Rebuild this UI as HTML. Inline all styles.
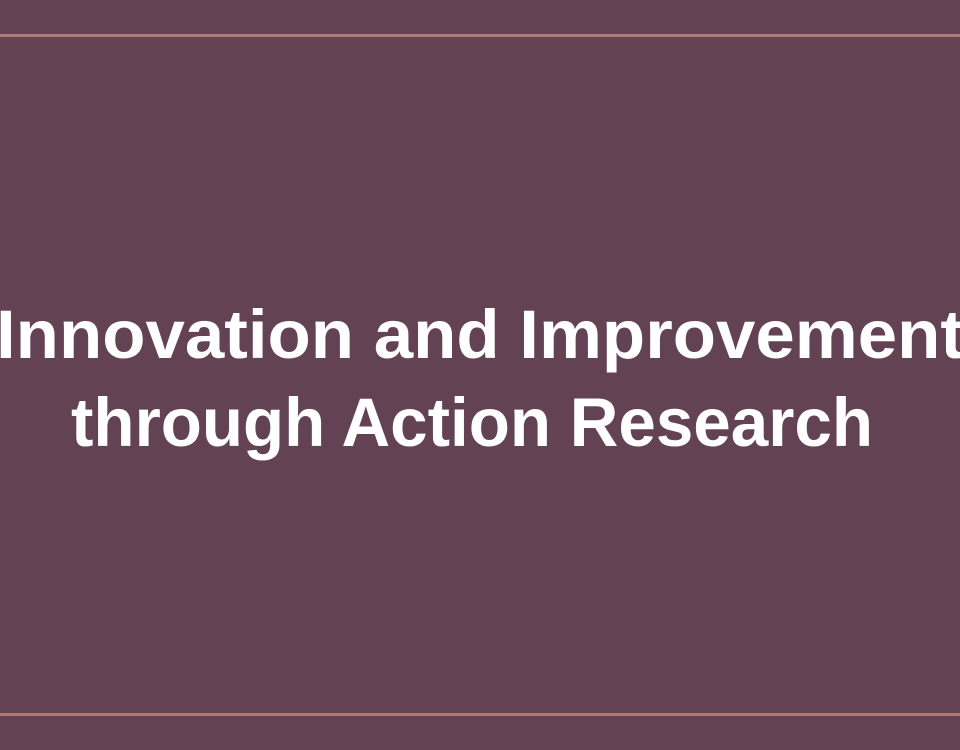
<!DOCTYPE html>
<html><head><meta charset="utf-8"><style>
html,body{margin:0;padding:0;background:#634254;}
svg{display:block}
</style></head><body>
<svg width="960" height="750" viewBox="0 0 960 750">
<rect x="0" y="0" width="960" height="750" fill="#634254"/>
<rect x="0" y="34" width="960" height="3" fill="#b07a76"/>
<rect x="0" y="713" width="960" height="3" fill="#b07a76"/>
<text x="-4" y="358" textLength="968" lengthAdjust="spacingAndGlyphs" font-family="Liberation Sans, sans-serif" font-weight="bold" font-size="69" fill="#ffffff">Innovation and Improvement</text>
<text x="71" y="446" textLength="802" lengthAdjust="spacingAndGlyphs" font-family="Liberation Sans, sans-serif" font-weight="bold" font-size="69" fill="#ffffff">through Action Research</text>
</svg>
</body></html>
